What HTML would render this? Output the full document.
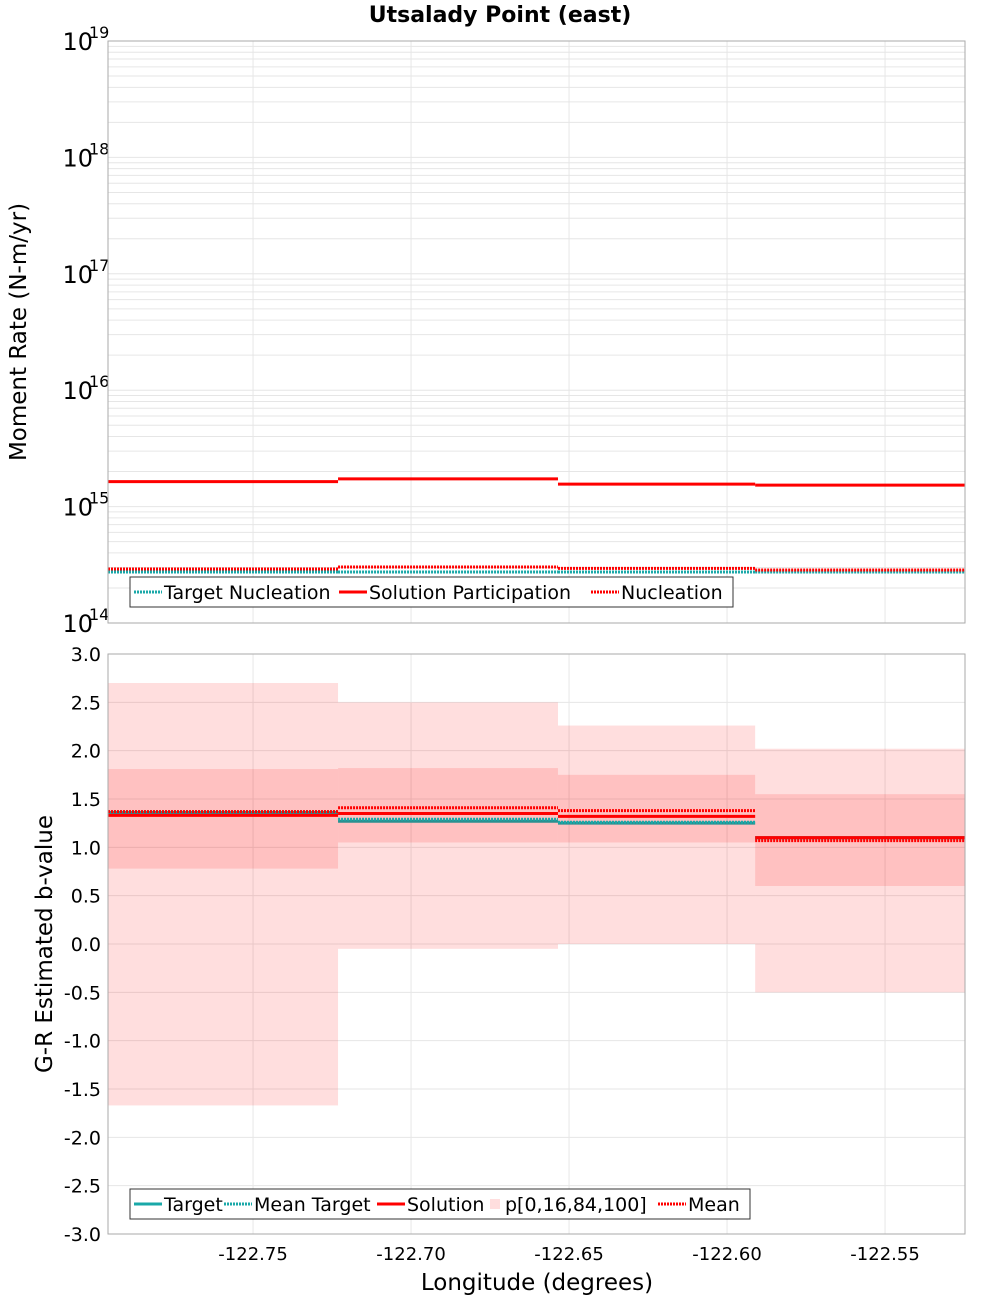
<!DOCTYPE html>
<html><head><meta charset="utf-8"><style>
body{margin:0;background:#fff;font-family:"DejaVu Sans","Liberation Sans",sans-serif}
svg text{font-family:"DejaVu Sans","Liberation Sans",sans-serif}
</style></head><body>
<svg id="c" width="1000" height="1300" xmlns="http://www.w3.org/2000/svg"></svg>
<script>
const binEdges=[-122.7959,-122.7231,-122.6535,-122.5911,-122.5247];
const xTicks=[-122.75,-122.70,-122.65,-122.60,-122.55];
const xTickLabels=["-122.75","-122.70","-122.65","-122.60","-122.55"];
const solPart=[1.64e15,1.73e15,1.56e15,1.53e15];
const nucl=[2.91e14,3.03e14,2.95e14,2.85e14];
const targetNucl=[2.74e14,2.74e14,2.74e14,2.74e14];
const p0=[-1.67,-0.05,0.0,-0.5];
const p16=[0.78,1.05,1.05,0.6];
const p84=[1.81,1.82,1.75,1.55];
const p100=[2.7,2.5,2.26,2.02];
const bSol=[1.33,1.35,1.32,1.10];
const bMean=[1.37,1.41,1.38,1.07];
const bTarget=[1.36,1.27,1.25,1.10];
const bMeanTarget=[1.37,1.29,1.26,1.09];
const yTicksB=[3,2.5,2,1.5,1,0.5,0,-0.5,-1,-1.5,-2,-2.5,-3];

const svg=document.getElementById('c');const NS='http://www.w3.org/2000/svg';
function el(t,a,p){const e=document.createElementNS(NS,t);for(const k in a)e.setAttribute(k,a[k]);(p||svg).appendChild(e);return e;}
const L=108,R=965,T1=41,B1=623,T2=654,B2=1234;
const xs=v=>L+(v-binEdges[0])/(binEdges[4]-binEdges[0])*(R-L);
const ys1=v=>B1-(Math.log10(v)-14)/5*(B1-T1);
const ys2=v=>T2+(3-v)/6*(B2-T2);

let t=el('text',{x:500,y:22,'text-anchor':'middle','font-size':22,'font-weight':'bold'});t.textContent='Utsalady Point (east)';


const g1=el('g',{});
for(let d=14;d<19;d++)for(let m=1;m<10;m++){const y=ys1(m*Math.pow(10,d));el('line',{x1:L,x2:R,y1:y,y2:y,stroke:'#e6e6e6','stroke-width':1},g1);}
xTicks.forEach(v=>{el('line',{x1:xs(v),x2:xs(v),y1:T1,y2:B1,stroke:'#e6e6e6'},g1);el('line',{x1:xs(v),x2:xs(v),y1:T2,y2:B2,stroke:'#e6e6e6'},g1);});
yTicksB.forEach(v=>el('line',{x1:L,x2:R,y1:ys2(v),y2:ys2(v),stroke:'#e6e6e6'},g1));

for(let d=14;d<=19;d++){const y=ys1(Math.pow(10,d));
 const tt=el('text',{x:93,y:y+9,'text-anchor':'end','font-size':24});tt.textContent='10';
 
 const s=el('text',{x:89,y:y-3,'font-size':16});s.textContent=String(d);
 }
t=el('text',{x:0,y:0,'text-anchor':'middle','font-size':23,transform:'translate(26,332) rotate(-90)'});t.textContent='Moment Rate (N-m/yr)';


function steps(arr,ys,attrs,name){for(let i=0;i<arr.length;i++){const l=el('line',Object.assign({x1:xs(binEdges[i]),x2:xs(binEdges[i+1]),y1:ys(arr[i]),y2:ys(arr[i])},attrs));
 }}
steps(targetNucl,ys1,{stroke:'#1aa8a8','stroke-width':3,'stroke-dasharray':'2,1'},'target-nucleation-line');
steps(solPart,ys1,{stroke:'#ff0000','stroke-width':3},'solution-participation-line');
steps(nucl,ys1,{stroke:'#ff0000','stroke-width':3,'stroke-dasharray':'2,1'},'nucleation-line');

for(let i=0;i<4;i++){const x1=xs(binEdges[i]),w=xs(binEdges[i+1])-x1;
 let r=el('rect',{x:x1,y:ys2(p100[i]),width:w,height:ys2(p0[i])-ys2(p100[i]),fill:'rgba(255,0,0,0.13)'});
 
 r=el('rect',{x:x1,y:ys2(p84[i]),width:w,height:ys2(p16[i])-ys2(p84[i]),fill:'rgba(255,0,0,0.13)'});
 }
steps(bTarget,ys2,{stroke:'#2a9090','stroke-width':3},'target-line');
steps(bMeanTarget,ys2,{stroke:'#1aa8a8','stroke-width':3,'stroke-dasharray':'2,1'},'mean-target-line');
steps(bSol,ys2,{stroke:'#ff0000','stroke-width':3},'solution-line');
steps(bMean,ys2,{stroke:'#ff0000','stroke-width':3,'stroke-dasharray':'2,1'},'mean-line');

yTicksB.forEach(v=>{const tt=el('text',{x:101,y:ys2(v)+7,'text-anchor':'end','font-size':19});tt.textContent=v.toFixed(1);
 });
t=el('text',{x:0,y:0,'text-anchor':'middle','font-size':23,transform:'translate(52,944) rotate(-90)'});t.textContent='G-R Estimated b-value';

xTicks.forEach((v,i)=>{const tt=el('text',{x:xs(v),y:1260,'text-anchor':'middle','font-size':18});tt.textContent=xTickLabels[i];
 });
t=el('text',{x:537,y:1290,'text-anchor':'middle','font-size':23});t.textContent='Longitude (degrees)';


let f=el('rect',{x:L,y:T1,width:R-L,height:B1-T1,fill:'none',stroke:'#aaa'});
f=el('rect',{x:L,y:T2,width:R-L,height:B2-T2,fill:'none',stroke:'#aaa'});

function legend(x,y,w,items,name){const g=el('g',{});
 el('rect',{x:x,y:y,width:w,height:30,fill:'#fff',stroke:'#333'},g);
 let cx=x+4;items.forEach(it=>{
  if(it.box)el('rect',{x:cx+5,y:y+10,width:10,height:10,fill:'#ffdede'},g);
  else el('line',Object.assign({x1:cx,x2:cx+28,y1:y+15,y2:y+15,'stroke-width':3},it.st),g);
  const tt=el('text',{x:cx+(it.box?20:30),y:y+22,'font-size':19},g);tt.textContent=it.t;
  
  cx+=it.w;});}
legend(130,577,603,[{t:'Target Nucleation',w:205,st:{stroke:'#1aa8a8','stroke-dasharray':'2,1'}},{t:'Solution Participation',w:252,st:{stroke:'#f00'}},{t:'Nucleation',w:140,st:{stroke:'#f00','stroke-dasharray':'2,1'}}],'legend-top');
legend(130,1189,620,[{t:'Target',w:90,st:{stroke:'#1aa8a8'}},{t:'Mean Target',w:153,st:{stroke:'#1aa8a8','stroke-dasharray':'2,1'}},{t:'Solution',w:108,st:{stroke:'#f00'}},{t:'p[0,16,84,100]',w:173,box:true},{t:'Mean',w:80,st:{stroke:'#f00','stroke-dasharray':'2,1'}}],'legend-bottom');
</script></body></html>
